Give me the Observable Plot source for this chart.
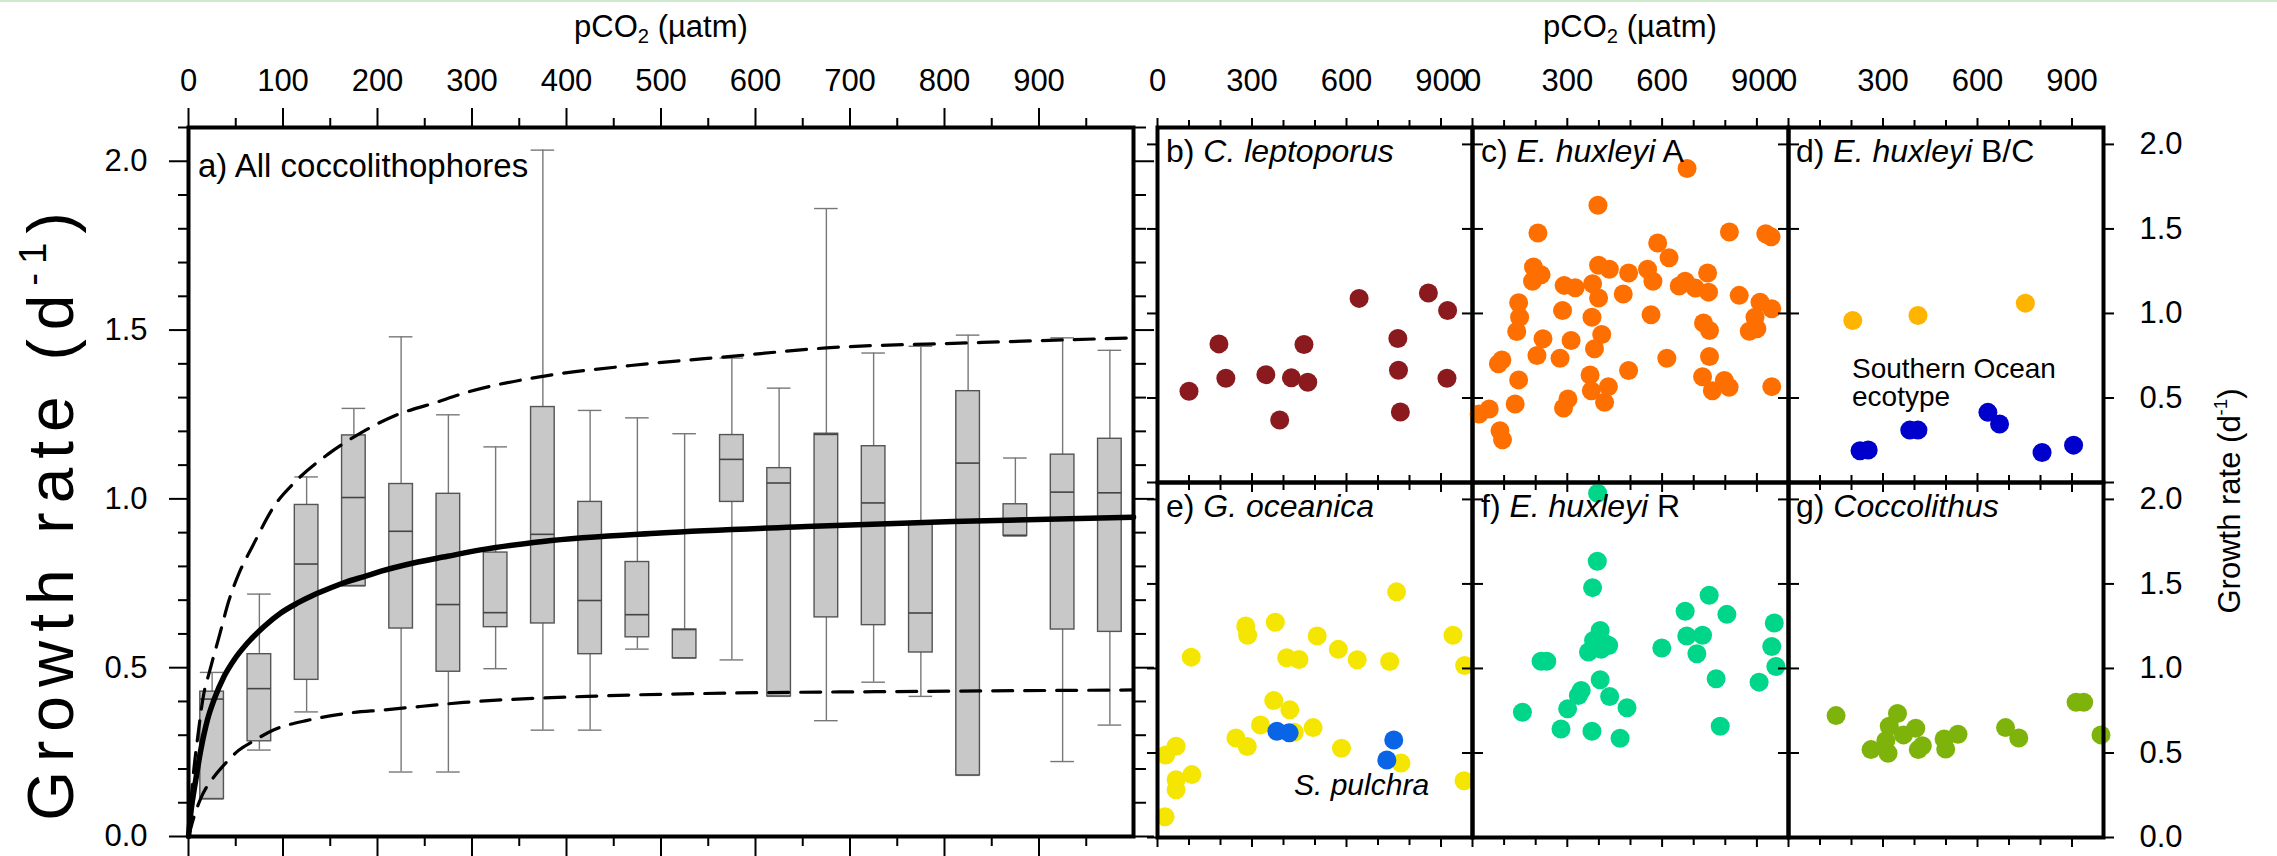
<!DOCTYPE html>
<html><head><meta charset="utf-8">
<script src="https://cdn.jsdelivr.net/npm/d3@7"></script>
<script src="https://cdn.jsdelivr.net/npm/@observablehq/plot@0.6"></script>
<style>
html,body{margin:0;padding:0;background:#fff;}
#chart{position:relative;width:2277px;height:856px;overflow:hidden;font-family:"Liberation Sans",Arial,sans-serif;background:#fff;}
#chart svg{position:absolute;left:0;top:0;}
.lbl{position:absolute;white-space:nowrap;color:#000;line-height:1;}
#topline{position:absolute;left:0;top:0;width:2277px;height:2px;background:#cdeacd;}
</style></head><body><div id="chart"><div id="topline"></div></div>
<script>
// ---------- Panel a: box plots per pCO2 bin ----------
const boxX = [25,75,125,175,225,275,325,375,425,475,525,575,625,675,725,775,825,875,925,975];
const whiskerLow  = [0.111,0.256,0.369,0.742,0.191,0.191,0.497,0.315,0.315,0.555,0.528,0.523,0.415,0.343,0.457,0.415,0.181,0.891,0.222,0.330];
const boxQ1       = [0.111,0.282,0.464,0.742,0.616,0.488,0.620,0.631,0.540,0.590,0.528,0.991,0.415,0.649,0.626,0.545,0.181,0.891,0.613,0.606];
const boxMedian   = [0.407,0.438,0.807,1.004,0.904,0.687,0.663,0.895,0.699,0.657,0.613,1.117,1.047,1.191,0.988,0.662,1.106,0.891,1.020,1.018];
const boxQ3       = [0.429,0.540,0.982,1.188,1.044,1.015,0.841,1.272,0.991,0.813,0.613,1.189,1.091,1.193,1.156,0.930,1.319,0.984,1.131,1.178];
const whiskerHigh = [0.486,0.718,1.065,1.268,1.480,1.249,1.154,2.033,1.262,1.240,1.193,1.417,1.328,1.860,1.432,1.452,1.485,1.121,1.477,1.440];

// fitted curve and its bounds
const fitX = [0,2.4,7.7,13,20,27,37.6,48.2,62.4,80,97.6,115,133,150,168,186,203,238,274,309,375,499,654,809,1000];
const fitY = [0,0.069,0.168,0.256,0.345,0.405,0.474,0.523,0.573,0.622,0.662,0.691,0.716,0.736,0.755,0.770,0.785,0.810,0.830,0.849,0.874,0.899,0.918,0.933,0.946];
const upperX = [0,4,10,16,21.8,32.4,43,53.5,67.6,90.5,113.4,147,182,217,260,295,375,468,577,675,825,1000];
const upperY = [0,0.15,0.30,0.42,0.484,0.592,0.701,0.780,0.859,0.978,1.052,1.131,1.195,1.245,1.284,1.316,1.363,1.395,1.423,1.447,1.462,1.477];
const lowerX = [0,6,13,27,36,53.5,67.6,90.5,127.5,168,207,245,291,422,577,732,1000];
const lowerY = [0,0.06,0.113,0.177,0.207,0.256,0.281,0.316,0.345,0.365,0.375,0.385,0.397,0.415,0.425,0.429,0.434];

// ---------- Panels b-g: scatter ----------
const lepX = [100,195,217,344,388,425,465,477,640,763,765,771,860,921,919];
const lepY = [0.54,0.82,0.617,0.638,0.37,0.619,0.816,0.593,1.089,0.852,0.664,0.417,1.121,1.018,0.617];

const huxAX = [679,397,207,813,928,945,586,622,193,217,190,399,433,494,554,571,744,290,325,380,399,477,654,673,705,747,844,910,947,894,146,149,140,285,378,565,731,750,876,900,223,312,409,386,204,277,82,93,615,750,146,494,372,728,376,430,418,135,302,288,759,797,812,947,53,21,87,95];
const huxAY = [1.858,1.64,1.476,1.482,1.472,1.453,1.417,1.33,1.275,1.229,1.19,1.285,1.261,1.239,1.261,1.19,1.239,1.166,1.152,1.176,1.091,1.115,1.162,1.19,1.15,1.126,1.107,1.067,1.028,0.978,1.063,0.978,0.893,1.018,0.978,0.992,0.943,0.899,0.895,0.909,0.85,0.84,0.875,0.791,0.751,0.735,0.702,0.725,0.735,0.745,0.607,0.662,0.636,0.626,0.543,0.567,0.474,0.464,0.494,0.441,0.543,0.603,0.563,0.567,0.435,0.405,0.306,0.253];

const huxBCX = [204,411,752];
const huxBCY = [0.958,0.988,1.061];
const southernX = [227,253,385,411,633,670,805,905];
const southernY = [0.188,0.192,0.31,0.31,0.415,0.346,0.178,0.221];

const oceX = [107,280,286,374,410,449,507,574,634,737,759,938,975,369,420,327,434,494,249,285,584,773,59,26,59,109,59,24,973];
const oceY = [1.067,1.251,1.196,1.273,1.063,1.053,1.192,1.113,1.051,1.041,1.453,1.196,1.018,0.81,0.755,0.666,0.623,0.65,0.589,0.538,0.528,0.441,0.54,0.488,0.342,0.372,0.283,0.123,0.336];
const pulX = [379,418,750,728];
const pulY = [0.628,0.619,0.577,0.458];

const huxRX = [396,395,380,749,673,805,955,404,383,420,431,367,407,393,678,728,599,710,947,960,217,235,404,771,907,344,335,434,489,301,158,280,378,467,784];
const huxRY = [2.036,1.634,1.478,1.433,1.338,1.32,1.269,1.225,1.166,1.146,1.136,1.097,1.113,1.156,1.192,1.196,1.121,1.087,1.13,1.012,1.043,1.043,0.933,0.939,0.919,0.87,0.84,0.834,0.767,0.761,0.741,0.642,0.628,0.587,0.658];

const coccoX = [151,346,320,404,365,309,262,316,412,425,494,499,538,689,731,913,937,992];
const coccoY = [0.721,0.733,0.658,0.646,0.607,0.573,0.52,0.498,0.52,0.543,0.583,0.524,0.611,0.65,0.589,0.8,0.8,0.607];

// tick values
const xMajorA = [0,100,200,300,400,500,600,700,800,900];
const xMinorA = [50,150,250,350,450,550,650,750,850,950];
const xLabelsSmall = [0,300,600,900];
const xTicksSmall = [100,200,400,500,700,800];
const yMajor = [0,0.5,1,1.5,2];
const yMinor = [0.1,0.2,0.3,0.4,0.6,0.7,0.8,0.9,1.1,1.2,1.3,1.4,1.6,1.7,1.8,1.9,2.1];

// ---------- layout ----------
const W = 2277, H = 856;
const FONT = '"Liberation Sans", Arial, sans-serif';
const FS = 31;
const chart = document.getElementById("chart");

function pts(xs, ys) { return xs.map((x, i) => ({x, y: ys[i]})); }
function frameWith(left, right, top, bottom, marks) {
  return Plot.plot({
    width: W, height: H,
    marginLeft: left, marginRight: W - right, marginTop: top, marginBottom: H - bottom,
    x: {domain: [0, 1000]}, y: {domain: [0, 2.1]},
    style: {background: "transparent", overflow: "visible", fontFamily: FONT, fontSize: FS + "px", color: "#000"},
    marks
  });
}
const noText = {fill: "none", label: null, strokeWidth: 2};

// ----- Panel a -----
const boxes = boxX.map((x, i) => ({x, lo: whiskerLow[i], q1: boxQ1[i], med: boxMedian[i], q3: boxQ3[i], hi: whiskerHigh[i]}));
const hw = 12.5;
const plotA = frameWith(188, 1133, 127, 836, [
  Plot.ruleX(boxes, {x: "x", y1: "q3", y2: "hi", stroke: "#777", strokeWidth: 1.4}),
  Plot.ruleX(boxes, {x: "x", y1: "lo", y2: "q1", stroke: "#777", strokeWidth: 1.4}),
  Plot.ruleY(boxes, {y: "hi", x1: d => d.x - hw, x2: d => d.x + hw, stroke: "#777", strokeWidth: 1.4}),
  Plot.ruleY(boxes, {y: "lo", x1: d => d.x - hw, x2: d => d.x + hw, stroke: "#777", strokeWidth: 1.4}),
  Plot.rect(boxes, {x1: d => d.x - hw, x2: d => d.x + hw, y1: "q1", y2: "q3", fill: "#c8c8c8", stroke: "#555", strokeWidth: 1.4}),
  Plot.ruleY(boxes, {y: "med", x1: d => d.x - hw, x2: d => d.x + hw, stroke: "#444", strokeWidth: 1.6}),
  Plot.line(pts(upperX, upperY), {x: "x", y: "y", stroke: "#000", strokeWidth: 3.2, strokeDasharray: "20,12", curve: "monotone-x"}),
  Plot.line(pts(lowerX, lowerY), {x: "x", y: "y", stroke: "#000", strokeWidth: 3.2, strokeDasharray: "20,12", curve: "monotone-x"}),
  Plot.line(pts(fitX, fitY), {x: "x", y: "y", stroke: "#000", strokeWidth: 5.5, curve: "monotone-x"}),
  Plot.axisX(xMajorA, {anchor: "top", tickSize: 20, tickPadding: 17, fontSize: FS, label: null, strokeWidth: 2, tickFormat: d => String(d)}),
  Plot.axisX(xMinorA, {anchor: "top", tickSize: 10, ...noText}),
  Plot.axisX(xMajorA, {anchor: "bottom", tickSize: 20, ...noText}),
  Plot.axisX(xMinorA, {anchor: "bottom", tickSize: 10, ...noText}),
  Plot.axisY(yMajor, {anchor: "left", tickSize: 19, tickPadding: 22, fontSize: FS, label: null, strokeWidth: 2, tickFormat: d3.format(".1f")}),
  Plot.axisY(yMinor, {anchor: "left", tickSize: 10, ...noText}),
  Plot.axisY(yMajor, {anchor: "right", tickSize: 20, ...noText}),
  Plot.axisY(yMinor, {anchor: "right", tickSize: 12, ...noText}),
  Plot.frame({stroke: "#000", strokeWidth: 4})
]);
chart.appendChild(plotA);

// ----- small panels -----
const cols = [[1157, 1472], [1472, 1788], [1788, 2103]];
const rows = [[127, 482], [482, 837]];
function small(ci, ri, series) {
  const [l, r] = cols[ci], [t, b] = rows[ri];
  const marks = series.map(s => Plot.dot(pts(s.xs, s.ys), {x: "x", y: "y", r: 9.5, fill: s.color, stroke: "none"}));
  if (ri === 0) {
    marks.push(Plot.axisX(xLabelsSmall, {anchor: "top", tickSize: 10, tickPadding: 27, fontSize: FS, label: null, strokeWidth: 2, tickFormat: d => String(d)}));
  } else {
    marks.push(Plot.axisX(xLabelsSmall, {anchor: "top", tickSize: 10, ...noText}));
  }
  marks.push(Plot.axisX(xTicksSmall, {anchor: "top", tickSize: 8, ...noText}));
  marks.push(Plot.axisX(xLabelsSmall, {anchor: "bottom", tickSize: 10, ...noText}));
  marks.push(Plot.axisX(xTicksSmall, {anchor: "bottom", tickSize: 8, ...noText}));
  marks.push(Plot.axisY(yMajor, {anchor: "left", tickSize: 10, ...noText}));
  if (ci === 2) {
    const lab = ri === 0 ? [0.5, 1, 1.5, 2] : yMajor;
    marks.push(Plot.axisY(yMajor, {anchor: "right", tickSize: 10, ...noText}));
    marks.push(Plot.axisY(lab, {anchor: "right", tickSize: 0, tickPadding: 36, fontSize: FS, label: null, tickFormat: d3.format(".1f")}));
  } else {
    marks.push(Plot.axisY(yMajor, {anchor: "right", tickSize: 10, ...noText}));
  }
  marks.push(Plot.frame({stroke: "#000", strokeWidth: 4}));
  chart.appendChild(frameWith(l, r, t, b, marks));
}
small(0, 0, [{xs: lepX, ys: lepY, color: "#8b1a1f"}]);
small(1, 0, [{xs: huxAX, ys: huxAY, color: "#ff6f00"}]);
small(2, 0, [{xs: huxBCX, ys: huxBCY, color: "#ffb400"}, {xs: southernX, ys: southernY, color: "#0000cc"}]);
small(0, 1, [{xs: oceX, ys: oceY, color: "#f4e600"}, {xs: pulX, ys: pulY, color: "#0a64e6"}]);
small(1, 1, [{xs: huxRX, ys: huxRY, color: "#00d68a"}]);
small(2, 1, [{xs: coccoX, ys: coccoY, color: "#7db30a"}]);

// ----- HTML text -----
function label(html, left, baseline, fs, extra = "") {
  const d = document.createElement("div");
  d.className = "lbl";
  d.style.cssText += `left:${left}px;top:${baseline - 0.8465 * fs}px;font-size:${fs}px;${extra}`;
  d.innerHTML = html;
  chart.appendChild(d);
  return d;
}
function centered(html, cx, baseline, fs) {
  return label(html, cx, baseline, fs, "transform:translateX(-50%);");
}
function rotated(html, cx, cy, fs, extra = "") {
  const d = document.createElement("div");
  d.className = "lbl";
  d.style.cssText += `left:${cx}px;top:${cy}px;font-size:${fs}px;transform:translate(-50%,-50%) rotate(-90deg);${extra}`;
  d.innerHTML = html;
  chart.appendChild(d);
}
const sub = '<span style="font-size:65%;position:relative;top:0.3em">2</span>';
centered(`pCO${sub} (µatm)`, 661, 37, 31);
centered(`pCO${sub} (µatm)`, 1630, 37, 31);
label("a) All coccolithophores", 198, 177, 33);
label("b) <i>C. leptoporus</i>", 1166, 162, 32);
label("c) <i>E. huxleyi</i> A", 1481, 162, 32);
label("d) <i>E. huxleyi</i> B/C", 1796, 162, 32);
label("e) <i>G. oceanica</i>", 1166, 517, 32);
label("f) <i>E. huxleyi</i> R", 1481, 517, 32);
label("g) <i>Coccolithus</i>", 1796, 517, 32);
label("Southern Ocean", 1852, 379, 28);
label("ecotype", 1852, 407, 28);
label("<i>S. pulchra</i>", 1294, 795, 30);
const sup = '<span style="font-size:60%;position:relative;top:-0.7em">-1</span>';
rotated(`Growth rate (d${sup})`, 51, 512, 64, "letter-spacing:9px;");
rotated(`Growth rate (d${sup})`, 2229, 501, 31);
</script></body></html>
